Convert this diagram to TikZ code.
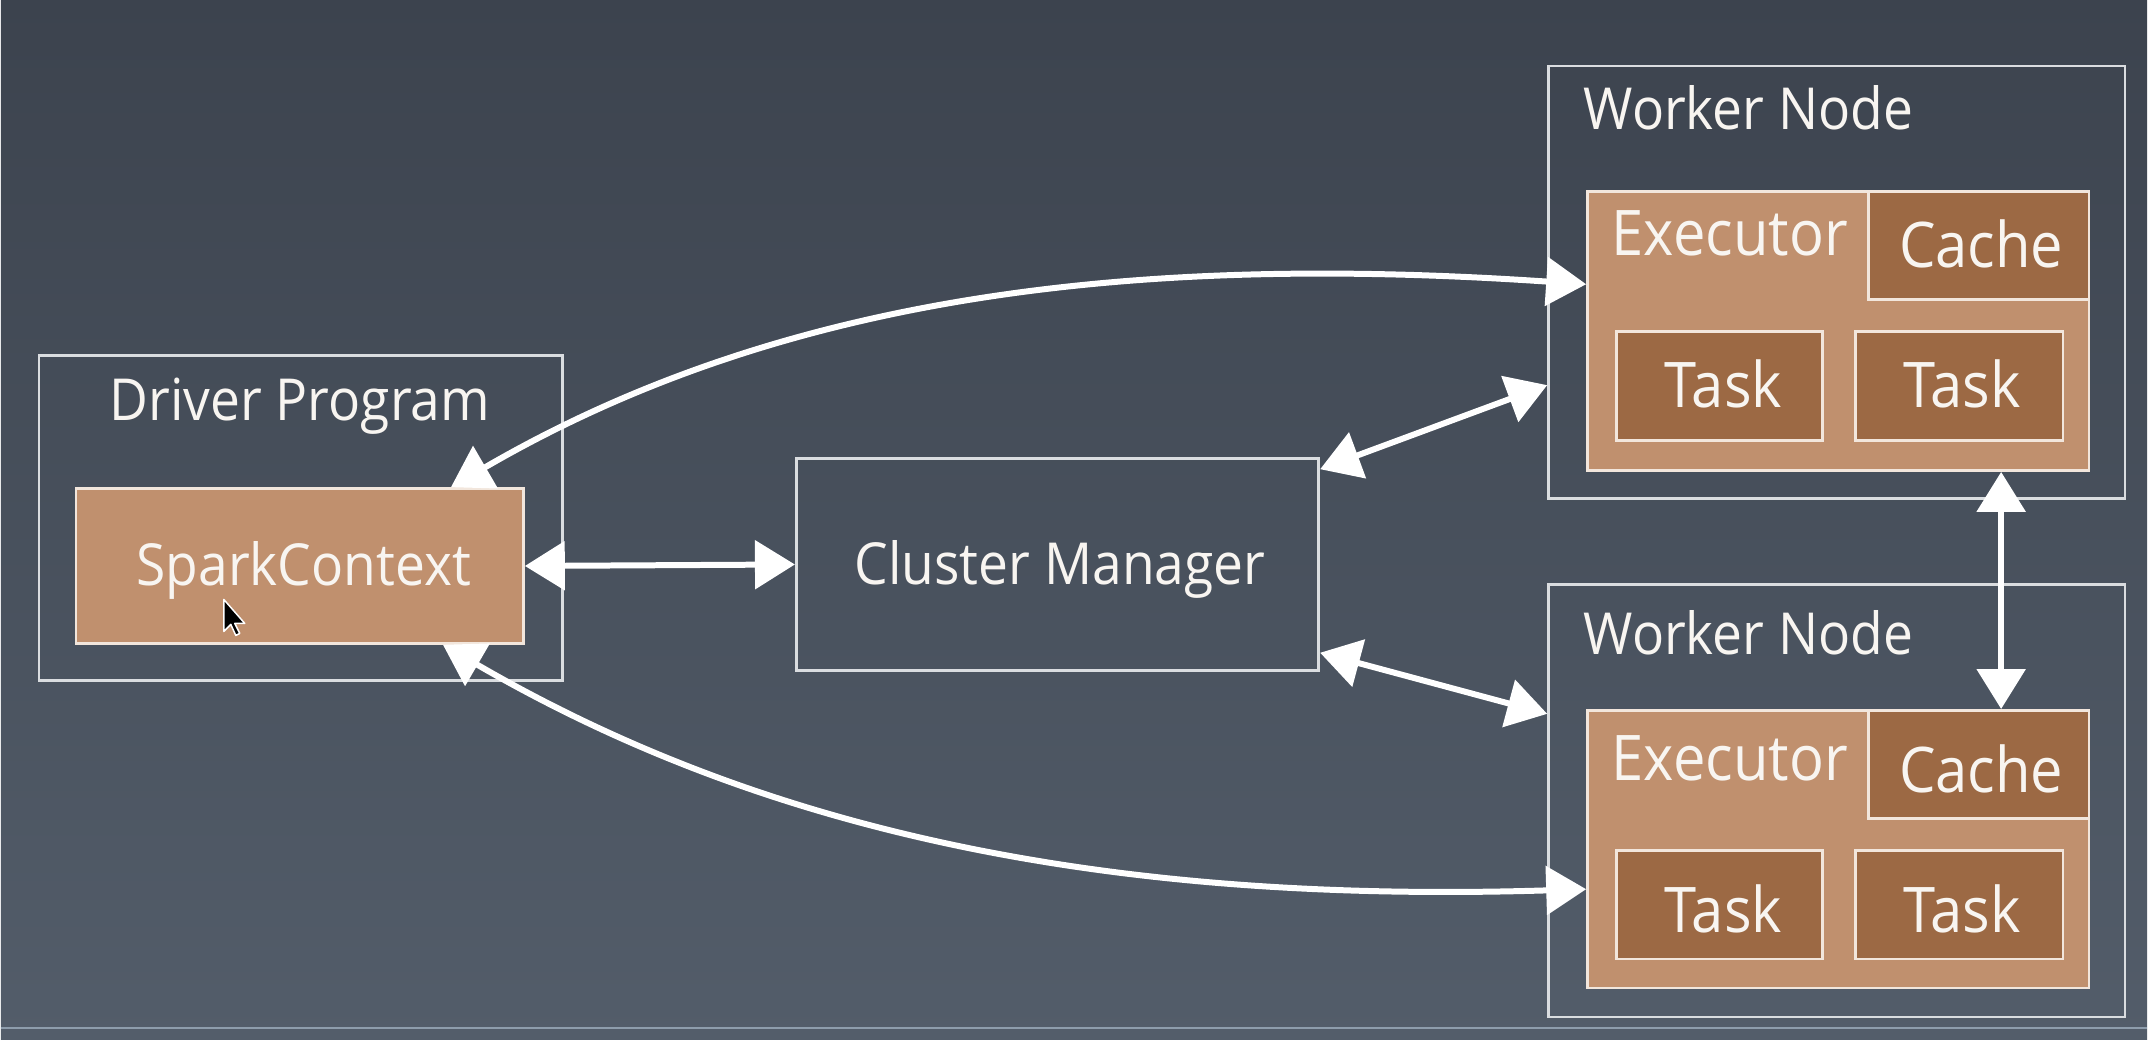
\documentclass[tikz,border=0pt]{standalone}
\usepackage{fontspec}
\setmainfont{Open Sans}[FakeStretch=0.92]
\usetikzlibrary{arrows.meta,calc,fit}
\definecolor{bgtop}{HTML}{3C434E}
\definecolor{bgbot}{HTML}{535D6A}
\definecolor{tanfill}{HTML}{C0906E}
\definecolor{brownfill}{HTML}{9C6944}
\definecolor{edgecol}{HTML}{DADDE0}
\definecolor{lightedge}{HTML}{F2E6DC}
\definecolor{txtcol}{HTML}{F8F5F1}
\definecolor{rulecol}{HTML}{8E9DAC}
\begin{document}
\begin{tikzpicture}[x=1pt,y=-1pt,
  frame/.style={draw=edgecol,line width=2.7pt,inner sep=0pt,rectangle},
  execbox/.style={draw=lightedge,fill=tanfill,line width=2.7pt,inner sep=0pt,rectangle},
  darkbox/.style={draw=lightedge,fill=brownfill,line width=2.7pt,inner sep=0pt,rectangle},
  lblbig/.style={text=txtcol,inner sep=0pt,font=\fontsize{58}{62}\selectfont},
  lblin/.style={text=txtcol,inner sep=0pt,font=\fontsize{63}{68}\selectfont},
  conn/.style={draw=white,line width=6pt,{Triangle[length=40pt,width=48pt]}-{Triangle[length=40pt,width=48pt]}}
]
% background
\shade[top color=bgtop,bottom color=bgbot] (0,0) rectangle (2148,1040);
\draw[rulecol,line width=2pt] (0,1029) -- (2148,1029);
\useasboundingbox (0,0) rectangle (2148,1040);

% driver
\node[frame,fit={(38,356) (562,681)}] (drv) {};
\node[lblbig,anchor=base] (tdrv) at (299,421) {Driver Program};
\node[execbox,fit={(75,489) (523,644)}] (sc) {};
\node[lblbig,anchor=base] (tsc) at (303,586) {SparkContext};

% cluster manager
\node[frame,fit={(796,459) (1319,671)}] (cm) {};
\node[lblbig,anchor=base] (tcm) at (1060,585) {Cluster Manager};

% worker 1
\node[frame,fit={(1549,66) (2126,499)}] (w1) {};
\node[lblbig,anchor=base west] (tw1) at (1584,130) {Worker Node};
\node[execbox,fit={(1588,192) (2090,471)}] (ex1) {};
\node[lblin,anchor=base west] (tex1) at (1612,256) {Executor};
\node[darkbox,fit={(1869,192) (2090,300)}] (c1) {};
\node[lblin,anchor=base] (tc1) at (1982,268) {Cache};
\node[darkbox,fit={(1617,332) (1823,441)}] (t1a) {};
\node[lblin,anchor=base] (tt1a) at (1724,408) {Task};
\node[darkbox,fit={(1856,332) (2064,441)}] (t1b) {};
\node[lblin,anchor=base] (tt1b) at (1963,408) {Task};

% worker 2
\node[frame,fit={(1549,585) (2126,1018)}] (w2) {};
\node[lblbig,anchor=base west] (tw2) at (1584,655) {Worker Node};
\node[execbox,fit={(1588,711) (2090,989)}] (ex2) {};
\node[lblin,anchor=base west] (tex2) at (1612,781) {Executor};
\node[darkbox,fit={(1869,711) (2090,819)}] (c2) {};
\node[lblin,anchor=base] (tc2) at (1982,793) {Cache};
\node[darkbox,fit={(1617,851) (1823,960)}] (t2a) {};
\node[lblin,anchor=base] (tt2a) at (1724,933) {Task};
\node[darkbox,fit={(1856,851) (2064,960)}] (t2b) {};
\node[lblin,anchor=base] (tt2b) at (1963,933) {Task};

% connection points on the nodes
\coordinate (scTop) at ($(sc.north east)+(-74,0)$);
\coordinate (scBot) at ($(sc.south east)+(-82,0)$);
\coordinate (ex1L) at ($(ex1.west)+(0,-47)$);
\coordinate (ex2L) at ($(ex2.west)+(0,40)$);
\coordinate (cmTR) at ($(cm.north east)+(0,12)$);
\coordinate (cmBR) at ($(cm.south east)+(0,-19)$);
\coordinate (w1L) at ($(w1.west)+(0,103)$);
\coordinate (w2L) at ($(w2.west)+(0,-87)$);
\coordinate (c2T) at ($(c2.north)+(22.5,0)$);
\coordinate (ex1B) at (c2T |- ex1.south);

% connectors
\draw[conn] (sc.east) -- (cm.west);
\draw[conn] (scTop) .. controls (790,290) and (1150,255) .. (ex1L);
\draw[conn] (scBot) .. controls (760,830) and (1100,905) .. (ex2L);
\draw[conn] (cmTR) -- (w1L);
\draw[conn] (cmBR) -- (w2L);
\draw[conn] (ex1B) -- (c2T);

% mouse pointer
\filldraw[fill=black,draw=white,line width=1.5pt,line join=round]
  (223,600) -- (223,632) -- (230,625) -- (235,636) -- (239,634) -- (234,624) -- (244,624) -- cycle;
\end{tikzpicture}
\end{document}
